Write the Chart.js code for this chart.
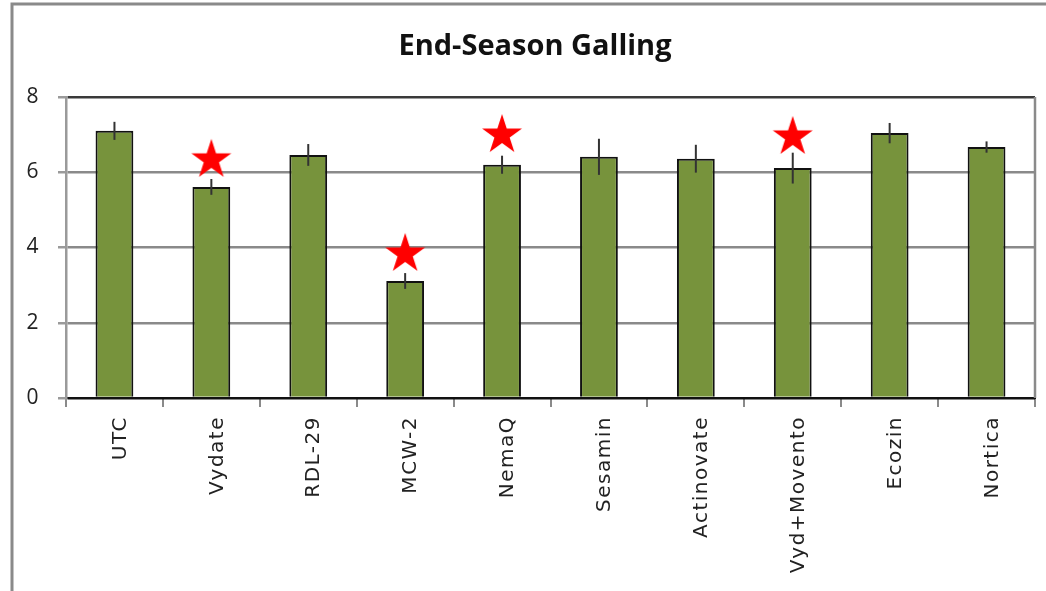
<!DOCTYPE html>
<html>
<head>
<meta charset="utf-8">
<script src="https://cdn.jsdelivr.net/npm/chart.js@4.4.1/dist/chart.umd.min.js"></script>
<style>
    html, body { margin: 0; padding: 0; background: #ffffff; overflow: hidden; }
    #wrap { width: 1046px; height: 591px; position: relative; }
</style>
</head>
<body>
<div id="wrap"><canvas id="chartGalling" width="1046" height="591"></canvas></div>
<script>
const categories = ['UTC', 'Vydate', 'RDL-29', 'MCW-2', 'NemaQ', 'Sesamin', 'Actinovate', 'Vyd+Movento', 'Ecozin', 'Nortica'];
const galling = [7.10, 5.61, 6.46, 3.11, 6.20, 6.41, 6.36, 6.11, 7.04, 6.67];
const gallingErr = [0.24, 0.21, 0.29, 0.21, 0.24, 0.48, 0.37, 0.41, 0.27, 0.15];
// star markers (significant vs UTC), centre height of each star
const starLevels = [null, 6.33, null, 3.83, 6.99, null, null, 6.94, null, null];
const yTicks = [0, 2, 4, 6, 8];
const titleText = 'End-Season Galling';

(function () {
    // Filled five-point star used as point style
    function buildStar(radius, color) {
        const size = Math.ceil(radius * 2 + 2);
        const c = document.createElement('canvas');
        c.width = size;
        c.height = size;
        const g = c.getContext('2d');
        const cx = size / 2;
        const cy = size / 2;
        const inner = radius * 0.382;
        g.beginPath();
        for (let i = 0; i < 10; i += 1) {
            const r = i % 2 === 0 ? radius : inner;
            const a = -Math.PI / 2 + i * Math.PI / 5;
            const px = cx + r * Math.cos(a);
            const py = cy + r * Math.sin(a);
            if (i === 0) { g.moveTo(px, py); } else { g.lineTo(px, py); }
        }
        g.closePath();
        g.fillStyle = color;
        g.fill();
        return c;
    }

    const starImage = buildStar(21, '#ff0000');

    const framePlugin = {
        id: 'frame',
        beforeDraw(chart) {
            const ctx = chart.ctx;
            ctx.save();
            ctx.strokeStyle = '#8a8a8a';
            ctx.lineWidth = 3;
            ctx.beginPath();
            ctx.moveTo(12, 591);
            ctx.lineTo(12, 4);
            ctx.lineTo(1046, 4);
            ctx.stroke();
            ctx.fillStyle = '#111111';
            ctx.font = 'bold 29px "Open Sans"';
            ctx.textAlign = 'center';
            ctx.textBaseline = 'middle';
            ctx.fillText(titleText, 535, 47);
            ctx.restore();
            // spaced-out category labels like the original
            ctx.letterSpacing = '1.5px';
        },
        beforeDatasetsDraw(chart) {
            chart.ctx.letterSpacing = '0px';
            const area = chart.chartArea;
            const ctx = chart.ctx;
            ctx.save();
            ctx.strokeStyle = '#8a8a8a';
            ctx.lineWidth = 2.5;
            ctx.beginPath();
            ctx.moveTo(area.right, area.top);
            ctx.lineTo(area.right, area.bottom);
            ctx.stroke();
            ctx.restore();
        },
        afterDatasetDraw(chart, args) {
            if (args.index !== 0) { return; }
            const yScale = chart.scales.y;
            const meta = chart.getDatasetMeta(0);
            const ctx = chart.ctx;
            ctx.save();
            ctx.strokeStyle = '#333333';
            ctx.lineWidth = 2;
            meta.data.forEach((bar, i) => {
                const top = yScale.getPixelForValue(galling[i] + gallingErr[i]);
                const bottom = yScale.getPixelForValue(galling[i] - gallingErr[i]);
                ctx.beginPath();
                ctx.moveTo(bar.x, top);
                ctx.lineTo(bar.x, bottom);
                ctx.stroke();
            });
            ctx.restore();
        }
    };

    const ctx = document.getElementById('chartGalling');
    new Chart(ctx, {
        data: {
            labels: categories,
            datasets: [{
                type: 'bar',
                label: 'Galling',
                data: galling,
                backgroundColor: '#77933c',
                borderColor: '#111111',
                borderWidth: 2,
                barPercentage: 0.39,
                categoryPercentage: 1,
                order: 2
            }, {
                type: 'line',
                label: 'Significant',
                data: starLevels,
                showLine: false,
                pointStyle: starImage,
                pointRadius: 21,
                clip: false,
                order: 1
            }]
        },
        options: {
            responsive: false,
            animation: false,
            devicePixelRatio: 1,
            layout: { autoPadding: false, padding: { top: 97, right: 11, left: 0, bottom: 0 } },
            plugins: {
                legend: { display: false },
                title: { display: false },
                tooltip: { enabled: false }
            },
            scales: {
                x: {
                    offset: true,
                    afterFit(scale) {
                        scale.height = 193;
                        scale.paddingLeft = 0;
                        scale.paddingRight = 0;
                    },
                    grid: {
                        offset: true,
                        drawOnChartArea: false,
                        drawTicks: true,
                        tickLength: 9,
                        color: '#8a8a8a',
                        lineWidth: 2
                    },
                    border: { display: true, color: '#111111', width: 2 },
                    ticks: {
                        minRotation: 90,
                        maxRotation: 90,
                        autoSkip: false,
                        padding: 9,
                        labelOffset: 6,
                        color: '#222222',
                        font: { family: '"DejaVu Sans"', size: 20 }
                    }
                },
                y: {
                    min: 0,
                    max: 8,
                    afterFit(scale) { scale.width = 66; },
                    afterBuildTicks(scale) {
                        scale.ticks = yTicks.map(v => ({ value: v }));
                    },
                    grid: {
                        color: c => (c.tick && c.tick.value === 8 ? '#3a3a3a' : (c.tick && c.tick.value === 0 ? '#111111' : '#8a8a8a')),
                        lineWidth: 2.5,
                        tickLength: 8,
                        tickColor: '#9a9a9a'
                    },
                    border: { display: true, color: '#9a9a9a', width: 2.5 },
                    ticks: {
                        padding: 18,
                        color: '#222222',
                        font: { family: '"Open Sans"', size: 21 }
                    }
                }
            }
        },
        plugins: [framePlugin]
    });
})();
</script>
</body>
</html>
